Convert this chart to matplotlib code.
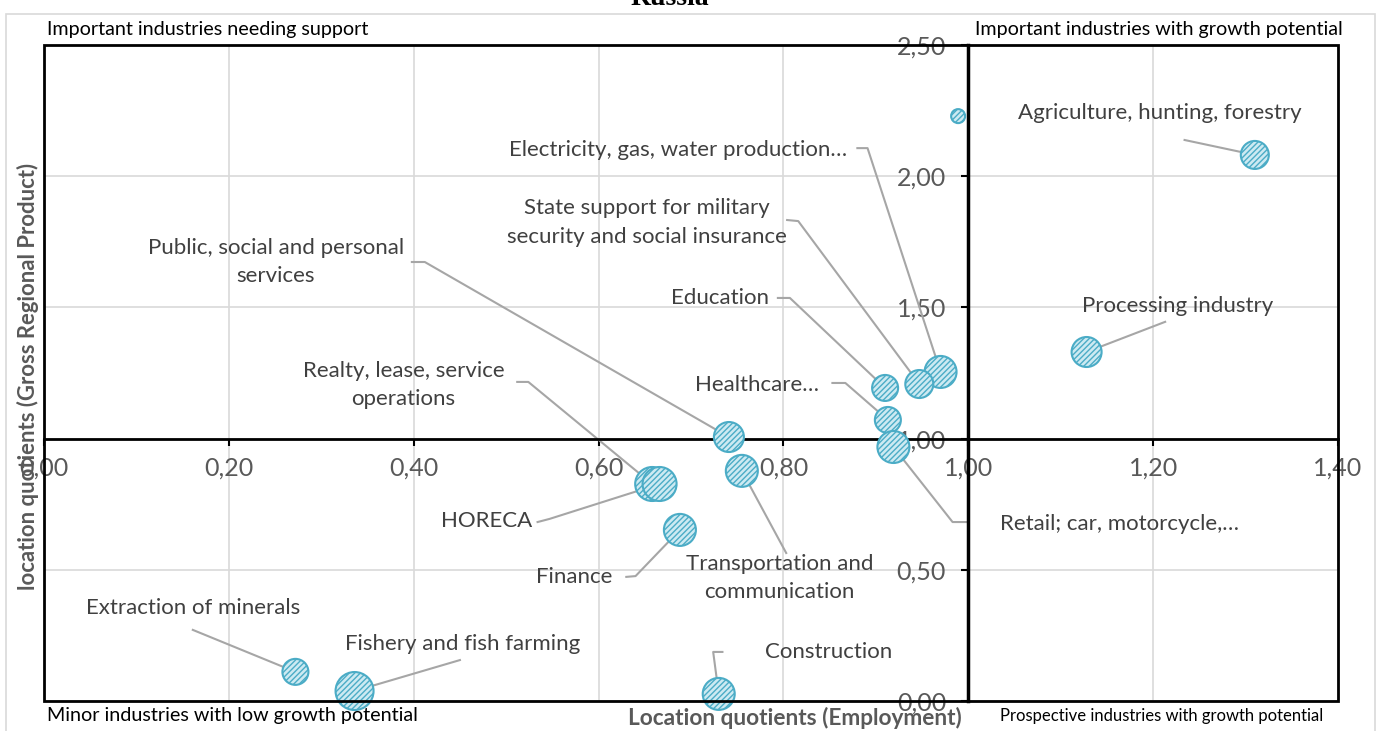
import matplotlib.pyplot as plt
from matplotlib.patches import Rectangle

plt.rcParams['font.family'] = ['Lato', 'DejaVu Sans']

# bubble data: employment LQ, GRP LQ, bubble size
industries = ['Agriculture, hunting, forestry', '', 'Processing industry',
              'Electricity, gas, water production…',
              'State support for military\nsecurity and social insurance',
              'Education', 'Healthcare…', 'Retail; car, motorcycle,…',
              'Public, social and personal\nservices',
              'Transportation and\ncommunication',
              'Realty, lease, service\noperations', 'HORECA', 'Finance',
              'Extraction of minerals', 'Fishery and fish farming', 'Construction']
emp_lq = [1.310, 0.989, 1.128, 0.970, 0.947, 0.910, 0.913, 0.919,
          0.741, 0.755, 0.658, 0.666, 0.688, 0.272, 0.336, 0.730]
grp_lq = [2.081, 2.229, 1.330, 1.254, 1.208, 1.193, 1.071, 0.968,
          1.006, 0.877, 0.827, 0.827, 0.652, 0.111, 0.038, 0.027]
bubble = [14, 7, 15, 16, 14, 13, 13, 16, 15, 16, 17, 17, 16, 13, 19, 16]

x_ticks = [0.0, 0.2, 0.4, 0.6, 0.8, 1.0, 1.2, 1.4]
y_ticks = [0.0, 0.5, 1.0, 1.5, 2.0, 2.5]

# label layout: text position, alignment, leader-line stub points
label_layout = [
    ((1.207, 2.241), 'center', [(1.234, 2.138)]),
    None,
    ((1.226, 1.505), 'center', [(1.213, 1.445)]),
    ((0.869, 2.100), 'right', [(0.880, 2.107), (0.891, 2.107)]),
    ((0.652, 1.825), 'center', [(0.804, 1.833), (0.816, 1.829)]),
    ((0.731, 1.536), 'center', [(0.794, 1.536), (0.807, 1.536)]),
    ((0.771, 1.204), 'center', [(0.853, 1.212), (0.867, 1.212)]),
    ((1.034, 0.675), 'left', [(0.999, 0.682), (0.983, 0.682)]),
    ((0.251, 1.673), 'center', [(0.398, 1.673), (0.412, 1.673)]),
    ((0.796, 0.469), 'center', [(0.803, 0.564)]),
    ((0.389, 1.204), 'center', [(0.512, 1.216), (0.524, 1.216)]),
    ((0.479, 0.686), 'center', [(0.534, 0.682), (0.547, 0.694)]),
    ((0.574, 0.473), 'center', [(0.630, 0.473), (0.640, 0.476)]),
    ((0.161, 0.354), 'center', [(0.161, 0.271)]),
    ((0.453, 0.217), 'center', [(0.450, 0.156)]),
    ((0.849, 0.187), 'center', [(0.734, 0.187), (0.724, 0.187)]),
]

fig = plt.figure(figsize=(13.81, 7.31), dpi=100)
ax = fig.add_axes([44 / 1381, 1 - 701 / 731, 1294 / 1381, 656 / 731])
ax.set_xlim(0, 1.4)
ax.set_ylim(0, 2.5)

ax.set_xticks(x_ticks)
ax.set_yticks(y_ticks)
ax.set_xticklabels([('%.2f' % v).replace('.', ',') for v in x_ticks])
ax.set_yticklabels([('%.2f' % v).replace('.', ',') for v in y_ticks])
ax.grid(True, color='#d9d9d9', lw=1.2)
ax.set_axisbelow(True)

for s in ['top', 'right']:
    ax.spines[s].set_visible(False)
ax.spines['left'].set_position(('data', 1.0))
ax.spines['bottom'].set_position(('data', 1.0))
ax.spines['left'].set_linewidth(2.5)
ax.spines['bottom'].set_linewidth(2)
ax.tick_params(axis='both', direction='out', length=5, width=1.5,
               labelsize=18, labelcolor='#595959', color='black')
ax.tick_params(axis='x', pad=8)
ax.tick_params(axis='y', pad=11)
ax.add_patch(Rectangle((0, 0), 1, 1, transform=ax.transAxes, fill=False,
                       lw=2, edgecolor='black', clip_on=False, zorder=5))

# leader lines
for i, lay in enumerate(label_layout):
    if lay is None:
        continue
    pos, ha, stub = lay
    xs = [p[0] for p in stub] + [emp_lq[i]]
    ys = [p[1] for p in stub] + [grp_lq[i]]
    ax.plot(xs, ys, color='#a6a6a6', lw=1.5, zorder=2)

plt.rcParams['hatch.linewidth'] = 1.0
sizes = [(2 * r * 0.72) ** 2 for r in bubble]
ax.scatter(emp_lq, grp_lq, s=sizes, facecolor='#cdeaf2', edgecolor='#4bacc6',
           hatch='//////', lw=1.5, zorder=3, clip_on=False)

for i, lay in enumerate(label_layout):
    if lay is None:
        continue
    pos, ha, stub = lay
    ax.text(pos[0], pos[1], industries[i], ha=ha, va='center',
            multialignment='center', fontsize=16, color='#404040',
            linespacing=1.55, zorder=4)

# axis titles
fig.text(795 / 1381, 1 - 718 / 731, 'Location quotients (Employment)',
         ha='center', va='center', fontsize=16.3, fontweight='bold', color='#595959')
fig.text(28 / 1381, 1 - 376 / 731, 'location quotients (Gross Regional Product)',
         ha='center', va='center', rotation=90, fontsize=15.9,
         fontweight='bold', color='#595959', zorder=1)

# quadrant labels
fig.text(47 / 1381, 1 - 30 / 731, 'Important industries needing support',
         ha='left', va='center', fontsize=14.2)
fig.text(975 / 1381, 1 - 30 / 731, 'Important industries with growth potential',
         ha='left', va='center', fontsize=14.2)
fig.text(47 / 1381, 1 - 716 / 731, 'Minor industries with low growth potential',
         ha='left', va='center', fontsize=14.2)
fig.text(1000 / 1381, 1 - 716 / 731, 'Prospective industries with growth potential',
         ha='left', va='center', fontsize=12)

# cut-off title
fig.text(670 / 1381, 1 - 5 / 731, 'Russia', ha='center', va='baseline',
         fontsize=20, fontweight='bold', family='Liberation Serif')

fig.patches.append(Rectangle((6 / 1381, -0.01), 1369 / 1381, 1 - 14 / 731 + 0.01,
                             transform=fig.transFigure, fill=False,
                             edgecolor='#d9d9d9', lw=1.2))

fig.savefig('out.png', dpi=100)
